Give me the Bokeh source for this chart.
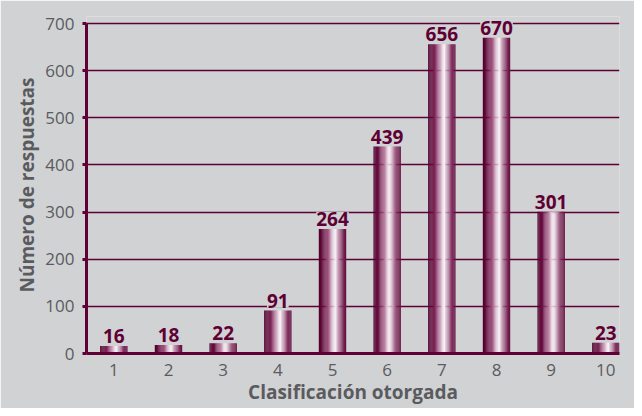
from bokeh.plotting import figure
from bokeh.models import ColumnDataSource, LabelSet, FixedTicker, Range1d
from bokeh.core.properties import value
from bokeh.embed import file_html
from bokeh.resources import INLINE

# ---- data ----
categories = [1, 2, 3, 4, 5, 6, 7, 8, 9, 10]
responses = [16, 18, 22, 91, 264, 439, 656, 670, 301, 23]
y_ticks = [0, 100, 200, 300, 400, 500, 600, 700]
x_title = "Clasificación otorgada"
y_title = "Número de respuestas"

# ---- style ----
BG = "#d1d2d4"
MAROON = "#5e0034"
GREY_TXT = "#5a5b5e"
FONT = "Open Sans"

p = figure(width=634, height=408, output_backend="svg", toolbar_location=None,
           x_range=Range1d(0.5, 10.25), y_range=Range1d(0, 715),
           min_border_left=86, min_border_right=15, min_border_top=16, min_border_bottom=55)
p.background_fill_color = BG
p.border_fill_color = BG
p.outline_line_color = None

# gradient stops across each bar (fraction, rgb)
stops = [(0.0, (80, 0, 45)), (0.18, (105, 15, 65)), (0.38, (175, 105, 145)),
         (0.53, (238, 222, 232)), (0.6, (250, 245, 248)), (0.7, (205, 165, 190)),
         (0.86, (130, 50, 95)), (1.0, (98, 12, 62))]

def grad(t):
    for (a, ca), (b, cb) in zip(stops[:-1], stops[1:]):
        if a <= t <= b:
            f = (t - a) / (b - a)
            c = [round(ca[i] + (cb[i] - ca[i]) * f) for i in range(3)]
            return "#%02x%02x%02x" % tuple(c)
    return "#%02x%02x%02x" % stops[-1][1]

bar_w = 0.5
N = 24
sw = bar_w / N
for k in range(N):
    t = (k + 0.5) / N
    xs = [c - bar_w / 2 + (k + 0.5) * sw for c in categories]
    p.vbar(x=xs, top=responses, width=sw * 1.08, bottom=0,
           fill_color=grad(t), line_color=None)

# value labels
src = ColumnDataSource(dict(x=categories, y=responses, t=[str(v) for v in responses]))
labels = LabelSet(x="x", y="y", text="t", source=src, text_align="center",
                  text_baseline="bottom", y_offset=3, text_font=value(FONT),
                  text_font_style="bold", text_font_size="19px", text_color=MAROON,
                  background_fill_color=BG)
p.add_layout(labels)

# grid
p.xgrid.grid_line_color = None
p.ygrid.ticker = FixedTicker(ticks=y_ticks)
p.ygrid.grid_line_color = MAROON
p.ygrid.grid_line_width = 1.5

# axes
p.xaxis.ticker = FixedTicker(ticks=categories)
p.yaxis.ticker = FixedTicker(ticks=y_ticks)
p.yaxis.bounds = (0, 700)
for ax in (p.xaxis, p.yaxis):
    ax.axis_line_color = MAROON
    ax.axis_line_width = 3
    ax.major_tick_line_color = MAROON
    ax.major_tick_line_width = 3
    ax.minor_tick_line_color = None
    ax.major_label_text_font = FONT
    ax.major_label_text_font_size = "17px"
    ax.major_label_text_color = GREY_TXT
    ax.axis_label_text_font = FONT
    ax.axis_label_text_font_size = "19px"
    ax.axis_label_text_font_style = "bold"
    ax.axis_label_text_color = GREY_TXT

p.xaxis.major_tick_out = 0
p.xaxis.major_tick_in = 0
p.xaxis.major_label_standoff = 10
p.xaxis.axis_label = x_title
p.xaxis.axis_label_standoff = 0

p.yaxis.major_tick_out = 4
p.yaxis.major_tick_in = 0
p.yaxis.major_label_standoff = 8
p.yaxis.axis_label = y_title
p.yaxis.axis_label_standoff = 2

open("out.html", "w").write(file_html(p, INLINE))
